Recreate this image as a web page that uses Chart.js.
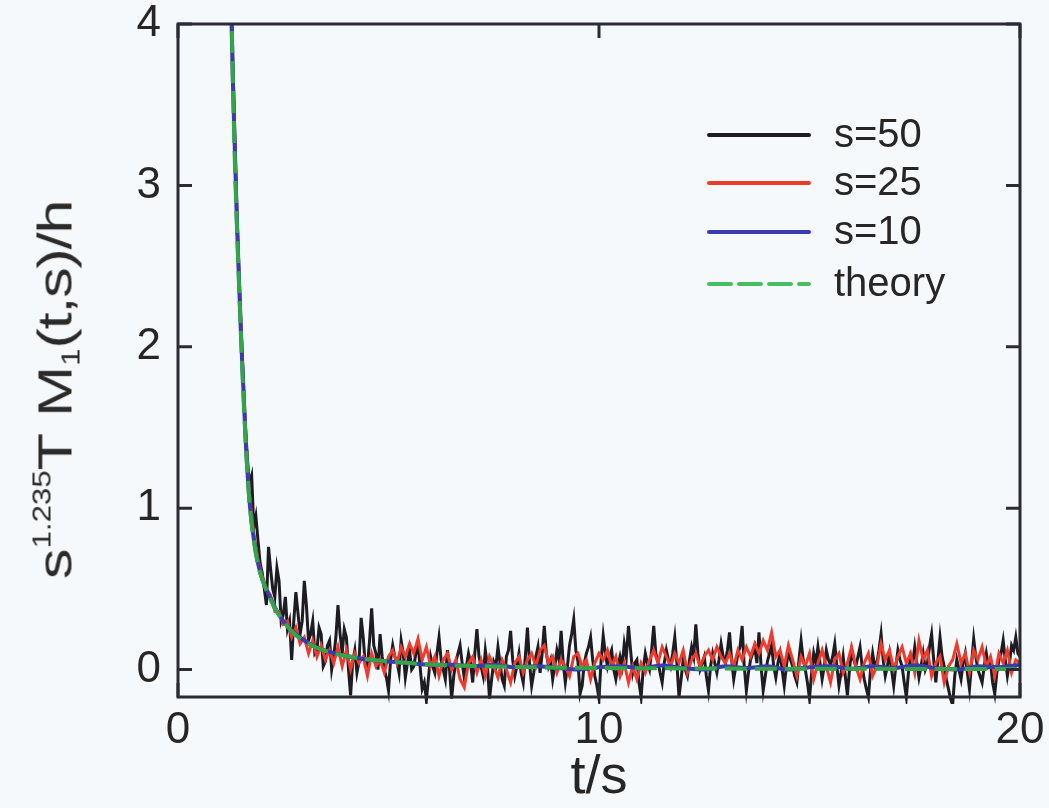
<!DOCTYPE html>
<html><head><meta charset="utf-8">
<script src="https://cdn.jsdelivr.net/npm/chart.js@4.4.1/dist/chart.umd.min.js"></script>
<style>
html,body{margin:0;padding:0;background:#f6f9fb;}
#wrap{position:relative;width:1049px;height:808px;overflow:hidden;}
#c{position:absolute;left:0;top:0;}
#ytitle{position:absolute;left:55px;top:390px;transform:translate(-50%,-50%) rotate(-90deg) scaleX(1.25);
  font-family:"Liberation Sans",Arial,sans-serif;font-size:49px;color:#2a2a2a;white-space:nowrap;line-height:1;}
#ytitle sup{font-size:25px;vertical-align:0.85em;line-height:0;}
#ytitle sub{font-size:25px;vertical-align:-0.3em;line-height:0;}
#ytitle .rest{letter-spacing:-1px;}
</style></head>
<body>
<div id="wrap">
<canvas id="c" width="1049" height="808"></canvas>
<div id="ytitle">s<sup>1.235</sup>T M<sub>1</sub><span class="rest">(t,s)/h</span></div>
</div>
<script>
// sample grids of the simulated series
const T0 = 1.2;
const DT_BLACK = 0.05, DT_RED = 0.1;
const xTicks = [0, 10, 20];
const yTicks = [0, 1, 2, 3, 4];
const seriesNames = ['s=50', 's=25', 's=10', 'theory'];

// s=50, t = 1.20, 1.25, ... 20.00
const black = [
 5.5,4.5,3.8,3.3,2.85,2.45,2.1,1.8,1.52,1.3,1.15,1.2,0.88,0.95,0.8,0.66,0.6,0.5,0.40,0.76,
 0.62,0.50,0.45,0.63,0.55,0.30,0.34,0.45,0.25,0.30,0.06,0.30,0.48,0.35,0.22,0.30,0.55,0.40,0.18,0.22,
 0.30,0.10,0.12,0.26,0.22,0.02,0.05,0.15,0.18,0.0,0.08,0.20,0.40,0.22,0.10,0.25,0.20,0.0,-0.16,0.05,
 0.12,-0.02,0.05,0.32,0.20,0.02,0.02,0.18,0.38,0.15,0.10,0.0,0.22,0.08,0.0,-0.05,-0.13,0.06,0.15,0.08,
 0.05,-0.02,0.18,0.10,-0.05,0.04,0.12,0.0,0.02,0.10,0.16,0.02,-0.12,-0.08,-0.19,-0.05,0.08,0.02,-0.02,0.10,
 0.20,0.06,0.0,-0.06,0.12,0.0,-0.18,-0.04,0.05,0.10,0.15,0.04,-0.05,0.02,0.10,0.04,-0.08,0.10,0.25,0.08,
 0.02,-0.04,0.12,0.02,-0.18,-0.06,0.05,0.02,0.14,0.04,-0.06,-0.10,0.08,0.12,0.24,0.06,-0.04,0.02,0.10,-0.02,
 -0.08,0.08,0.26,0.04,-0.10,-0.02,0.08,0.14,-0.02,0.10,0.27,0.10,0.02,0.06,-0.06,0.02,0.12,0.06,0.24,0.04,
 -0.08,0.02,0.15,0.22,0.31,0.12,0.05,-0.15,-0.10,0.04,0.10,0.14,0.20,0.06,-0.04,-0.10,-0.18,0.06,0.21,0.10,
 0.02,0.08,0.12,0.0,-0.06,0.02,0.08,0.02,0.16,0.08,0.27,0.12,-0.02,0.04,0.06,-0.08,-0.17,0.0,0.10,0.04,
 0.0,0.12,0.27,0.10,0.05,-0.02,-0.08,0.04,0.12,0.06,0.02,0.10,0.20,0.04,-0.17,-0.06,0.06,0.0,-0.04,0.06,
 0.14,0.08,0.28,0.10,0.0,0.04,0.08,-0.04,-0.13,0.02,0.10,0.04,-0.02,0.06,0.16,0.08,0.04,0.12,0.23,0.06,
 -0.06,0.02,0.10,0.14,0.27,0.02,-0.13,-0.02,0.06,0.10,0.14,0.04,0.23,0.02,-0.13,-0.04,0.05,0.10,0.15,0.02,
 -0.05,0.04,0.10,0.0,-0.10,0.02,0.12,0.06,0.02,-0.04,-0.08,0.06,0.18,0.06,0.0,-0.08,-0.18,-0.02,0.10,0.04,
 0.14,0.04,-0.06,0.02,0.12,0.06,0.03,0.08,0.16,0.02,-0.10,-0.02,0.08,-0.04,-0.16,0.0,0.12,0.06,0.02,0.08,
 0.14,0.02,-0.06,-0.12,-0.17,0.0,0.10,0.02,0.04,0.12,0.22,0.06,-0.04,0.02,0.10,0.0,-0.10,0.02,0.12,0.06,
 0.02,-0.08,-0.17,-0.02,0.08,0.04,0.14,0.04,-0.05,0.02,0.10,0.0,0.04,0.14,0.22,0.06,-0.08,0.06,0.20,0.08,
 0.02,-0.06,-0.12,-0.18,-0.22,-0.04,0.06,0.0,-0.06,0.04,0.10,-0.02,-0.12,0.04,0.19,0.08,0.0,-0.04,-0.08,0.02,
 0.10,0.02,0.04,-0.08,-0.15,-0.02,0.06,0.10,0.18,0.06,-0.04,0.04,0.15,0.12,0.20,0.10,0.08
];
// s=25, t = 1.2, 1.3, ... 20.0
const red = [
 5.3,3.72,2.78,2.08,1.48,1.08,0.84,0.68,0.58,0.50,
 0.46,0.36,0.36,0.28,0.30,0.20,0.26,0.16,0.20,0.10,
 0.18,0.08,0.15,0.06,0.12,0.04,0.14,0.02,0.12,0.0,
 0.10,0.04,0.08,-0.04,0.10,0.02,0.06,-0.02,0.08,0.12,
 0.04,0.14,0.08,0.16,0.10,0.19,0.06,0.14,0.02,0.08,
 -0.04,0.06,0.10,0.0,0.06,-0.06,-0.11,0.04,0.08,-0.02,
 0.06,-0.04,0.08,0.02,-0.05,0.06,0.0,-0.08,0.04,0.08,
 -0.02,0.06,0.10,0.02,0.12,0.15,0.04,0.08,-0.02,0.06,
 0.02,-0.04,0.08,0.10,0.02,0.06,-0.06,0.04,0.10,0.06,
 0.12,0.02,0.08,-0.04,0.04,-0.08,0.02,-0.06,0.04,-0.02,
 0.06,0.12,0.04,0.14,0.08,0.02,0.10,0.04,0.12,-0.02,
 0.06,0.10,0.02,0.08,0.12,0.06,0.14,0.08,0.04,0.10,
 0.02,0.12,0.06,0.14,0.08,0.16,0.10,0.18,0.12,0.23,
 0.08,0.12,0.02,0.15,0.06,-0.04,0.08,0.02,0.10,-0.06,
 0.04,0.12,0.02,-0.08,0.06,0.10,-0.02,0.04,0.14,0.02,
 -0.06,0.04,0.10,-0.04,0.02,0.16,0.06,0.12,0.0,0.08,
 0.14,0.04,0.10,-0.02,0.18,0.06,0.12,-0.04,0.04,0.08,
 -0.08,0.02,0.06,0.16,0.04,0.10,-0.02,0.12,0.06,0.14,
 0.02,0.08,-0.04,0.10,0.04,0.12,-0.02,0.06,0.04
];
const tBlue = [1.22,1.3,1.4,1.5,1.6,1.7,1.8,1.9,2.0,2.2,2.4,2.6,2.8,3.0,3.3,3.6,4.0,4.5,
 5,5.5,6,6.5,7,7.5,8,8.5,9,9.5,10,10.5,11,11.5,12,12.5,13,13.5,14,14.5,15,15.5,16,16.5,17,17.5,18,18.5,19,19.5,20];
const vBlue = [4.6,3.68,2.76,2.05,1.46,1.04,0.81,0.66,0.56,0.44,0.34,0.27,0.22,0.18,0.135,0.11,0.085,0.06,
 0.05,0.04,0.03,0.03,0.02,0.03,0.015,0.02,0.01,0.0,0.015,0.02,0.01,0.025,0.01,0.0,0.02,0.01,0.02,0.0,0.015,0.02,0.005,0.02,0.01,0.025,0.01,0.0,0.02,0.015,0.03];
const tTheory = [1.22,1.27,1.3,1.35,1.4,1.45,1.5,1.55,1.6,1.65,1.7,1.8,1.9,2.0,2.15,2.3,2.5,2.75,3.0,3.3,3.7,4.2,5,6,7,8,10,12,15,20];
const vTheory = [4.7,4.1,3.7,3.15,2.75,2.38,2.05,1.72,1.45,1.22,1.03,0.80,0.65,0.56,0.46,0.38,0.30,0.225,0.175,0.135,0.10,0.075,0.05,0.032,0.022,0.016,0.010,0.007,0.005,0.003];

const COLORS = {black:'#1c1c22', red:'#ee3b2c', blue:'#3a3cae', green:'#33a548', frame:'#2b2b36', text:'#262626'};
const FONT = '"Liberation Sans", Arial, sans-serif';

const gridPts = (arr, dt) => arr.map((v,i)=>({x: Math.round((T0 + i*dt)*100)/100, y: v}));
const pairPts = (ts, vs) => ts.map((t,i)=>({x:t, y:vs[i]}));
const noPad = s => { s.paddingLeft = 0; s.paddingRight = 0; s.paddingTop = 0; s.paddingBottom = 0; };

const framePlugin = {
  id:'frame',
  afterDatasetsDraw(chart){
    const {ctx, chartArea:a, scales:{x, y}} = chart;
    ctx.save();
    ctx.strokeStyle = COLORS.frame; ctx.lineWidth = 3;
    const TL = 14;
    ctx.beginPath();
    yTicks.forEach(v=>{
      const py = y.getPixelForValue(v);
      ctx.moveTo(a.left, py); ctx.lineTo(a.left+TL, py);
      ctx.moveTo(a.right-TL, py); ctx.lineTo(a.right, py);
    });
    xTicks.forEach(v=>{
      const px = x.getPixelForValue(v);
      ctx.moveTo(px, a.bottom); ctx.lineTo(px, a.bottom-TL);
      ctx.moveTo(px, a.top); ctx.lineTo(px, a.top+TL);
    });
    ctx.stroke();
    ctx.strokeRect(a.left, a.top, a.right-a.left, a.bottom-a.top);
    ctx.restore();
  }
};

const legendPlugin = {
  id:'insideLegend',
  afterDraw(chart){
    const {ctx} = chart;
    const items = [
      {name:seriesNames[0], color:COLORS.black, dash:[]},
      {name:seriesNames[1], color:COLORS.red, dash:[]},
      {name:seriesNames[2], color:COLORS.blue, dash:[]},
      {name:seriesNames[3], color:'#45bf62', dash:[22,8]}
    ];
    const rows = [135, 183, 232, 284];
    ctx.save();
    items.forEach((it,i)=>{
      ctx.beginPath();
      ctx.strokeStyle = it.color; ctx.lineWidth = 4; ctx.lineCap = 'round';
      ctx.setLineDash(it.dash);
      ctx.moveTo(709, rows[i]); ctx.lineTo(809, rows[i]);
      ctx.stroke();
      ctx.setLineDash([]);
      ctx.fillStyle = COLORS.text;
      ctx.font = '40px ' + FONT;
      ctx.textBaseline = 'middle'; ctx.textAlign = 'left';
      ctx.fillText(it.name, 834, rows[i] + 1);
    });
    ctx.restore();
  }
};

new Chart(document.getElementById('c'), {
  type:'line',
  data:{datasets:[
    {label:seriesNames[3], data:pairPts(tTheory, vTheory), borderColor:COLORS.green, borderWidth:4, borderDash:[22,8],
     pointRadius:0, cubicInterpolationMode:'monotone', order:1},
    {label:seriesNames[2], data:pairPts(tBlue, vBlue), borderColor:COLORS.blue, borderWidth:4,
     pointRadius:0, cubicInterpolationMode:'monotone', order:2},
    {label:seriesNames[1], data:gridPts(red, DT_RED), borderColor:COLORS.red, borderWidth:3, pointRadius:0, tension:0, order:3},
    {label:seriesNames[0], data:gridPts(black, DT_BLACK), borderColor:COLORS.black, borderWidth:3, pointRadius:0, tension:0, order:4,
     clip:{left:0, top:0, right:0, bottom:7}}
  ]},
  options:{
    responsive:false, animation:false, devicePixelRatio:1,
    layout:{padding:{left:0, right:29, top:24, bottom:0}},
    plugins:{legend:{display:false}, tooltip:{enabled:false}},
    scales:{
      x:{type:'linear', min:0, max:20,
        grid:{display:false, drawTicks:false}, border:{display:false},
        afterBuildTicks:s=>{ s.ticks = xTicks.map(v=>({value:v})); },
        ticks:{font:{family:FONT, size:44, lineHeight:1}, color:COLORS.text, padding:12, maxRotation:0, autoSkip:false},
        title:{display:true, text:'t/s', font:{family:FONT, size:54, lineHeight:1.1}, color:COLORS.text, padding:{top:0, bottom:0}},
        afterFit:s=>{ s.height = 111; noPad(s); }
      },
      y:{type:'linear', min:-0.17, max:4,
        grid:{display:false, drawTicks:false}, border:{display:false},
        afterBuildTicks:s=>{ s.ticks = yTicks.map(v=>({value:v})); },
        ticks:{font:{family:FONT, size:44, lineHeight:1}, color:COLORS.text, padding:17, autoSkip:false},
        afterFit:s=>{ s.width = 178; noPad(s); }
      }
    }
  },
  plugins:[framePlugin, legendPlugin]
});
</script>
</body></html>
